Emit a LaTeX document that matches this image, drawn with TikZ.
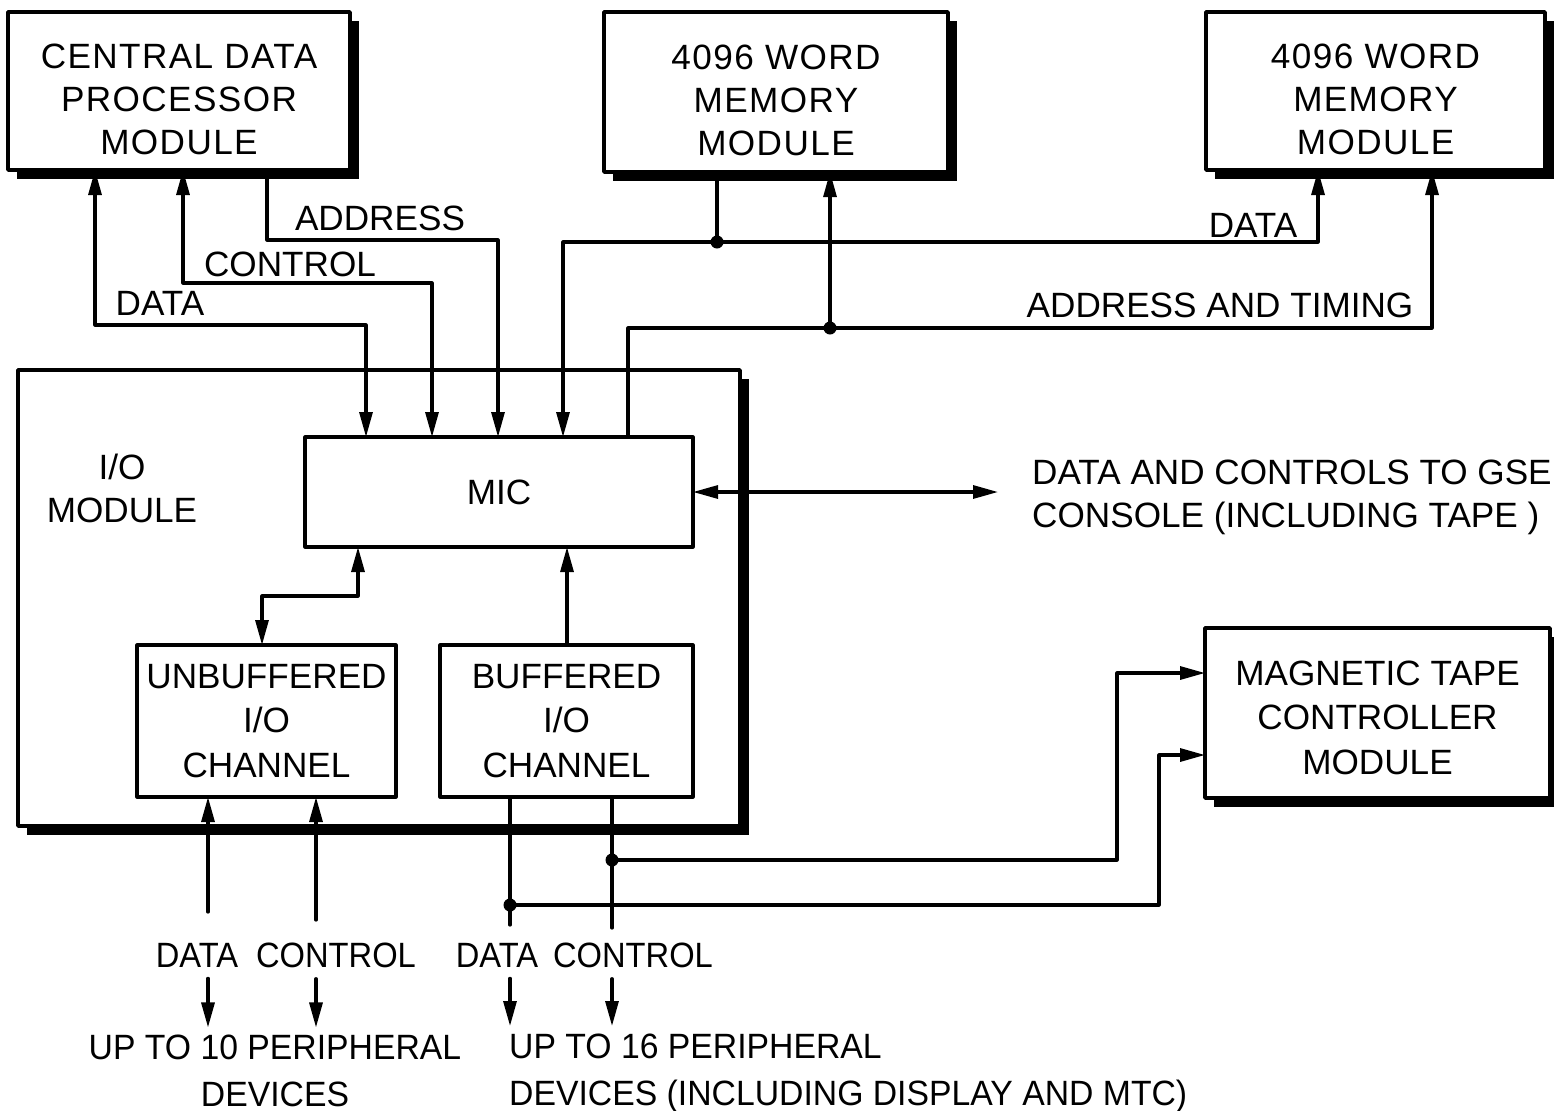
\documentclass[tikz,border=0pt]{standalone}
\usepackage{fontspec}
\setmainfont{Liberation Sans}
\usetikzlibrary{arrows.meta,shadows}

% invisible strut that lowers the text block of a module
\newcommand{\lowtop}[1]{\rule{0pt}{#1}}

\begin{document}
\begin{tikzpicture}[x=1cm,y=1cm,>={Triangle[length=2.5mm,width=1.3mm]},line cap=round,line join=round]

% Box and text styles
\tikzset{
  module/.style={draw,line width=1pt,fill=white,align=center,inner sep=0pt,outer sep=0pt,
    font=\fontsize{10}{12.2}\selectfont\addfontfeature{LetterSpace=4},
    drop shadow={shadow xshift=0.09cm,shadow yshift=-0.09cm,opacity=1,fill=black}},
  unit/.style={draw,line width=0.9pt,fill=white,align=center,inner sep=0pt,outer sep=0pt,
    font=\fontsize{10}{12.6}\selectfont},
  sig/.style={line width=0.9pt},
  siglabel/.style={font=\fontsize{10}{12.2}\selectfont,inner sep=1pt},
  botlabel/.style={font=\fontsize{10}{12.2}\selectfont\addfontfeature{FakeStretch=0.93},inner sep=1pt},
  devlabel/.style={font=\fontsize{10}{13.3}\selectfont\addfontfeature{FakeStretch=0.96},inner sep=1pt}
}

\useasboundingbox (0,0) rectangle (15.54,11.10);

% Modules
\node[module,minimum width=3.42cm,minimum height=1.58cm] (cdp) at (1.79,10.19) {\lowtop{0.41cm}CENTRAL DATA\\PROCESSOR\\MODULE};
\node[module,minimum width=3.44cm,minimum height=1.60cm] (memA) at (7.76,10.18) {\lowtop{0.42cm}4096 WORD\\MEMORY\\MODULE};
\node[module,minimum width=3.39cm,minimum height=1.58cm] (memB) at (13.755,10.19) {\lowtop{0.42cm}4096 WORD\\MEMORY\\MODULE};
\node[module,minimum width=7.22cm,minimum height=4.56cm] (iomod) at (3.79,5.12) {};
\node[module,font=\fontsize{10}{12.6}\selectfont,minimum width=3.45cm,minimum height=1.70cm] (mtc) at (13.775,3.97) {\lowtop{0.34cm}MAGNETIC TAPE\\CONTROLLER\\MODULE};

% Inside the I/O module
\node[siglabel,align=center] (iolbl) at (1.22,6.22) {I/O\\MODULE};
\node[unit,minimum width=3.88cm,minimum height=1.10cm] (mic) at (4.99,6.18) {MIC};
\node[unit,minimum width=2.59cm,minimum height=1.52cm] (unbuf) at (2.665,3.89) {UNBUFFERED\\I/O\\CHANNEL};
\node[unit,minimum width=2.53cm,minimum height=1.52cm] (buf) at (5.665,3.89) {BUFFERED\\I/O\\CHANNEL};

% Bends of the processor and memory buses
\coordinate (cdA) at (0.95,7.85); \coordinate (cdB) at (3.66,7.85);
\coordinate (ccA) at (1.83,8.27); \coordinate (ccB) at (4.32,8.27);
\coordinate (caA) at (2.67,8.70); \coordinate (caB) at (4.98,8.70);
\coordinate (mdA) at (5.63,8.68); \coordinate (mdB) at (13.18,8.68); \coordinate (mdJ) at (7.17,8.68);
\coordinate (atA) at (6.28,7.82); \coordinate (atB) at (14.32,7.82); \coordinate (atJ) at (8.30,7.82);

% Processor to MIC
\draw[sig,<->] (cdp.south -| cdA) -- (cdA) -- (cdB) -- (cdB |- mic.north);
\draw[sig,<->] (cdp.south -| ccA) -- (ccA) -- (ccB) -- (ccB |- mic.north);
\draw[sig,->] (cdp.south -| caA) -- (caA) -- (caB) -- (caB |- mic.north);

% Memories to MIC
\draw[sig,<->] (mic.north -| mdA) -- (mdA) -- (mdB) -- (mdB |- memB.south);
\draw[sig] (memA.south -| mdJ) -- (mdJ);
\draw[sig,->] (mic.north -| atA) -- (atA) -- (atB) -- (atB |- memB.south);
\draw[sig,->] (atJ) -- (atJ |- memA.south);
\fill (mdJ) circle (0.065) (atJ) circle (0.065);

% Bus labels
\node[siglabel] (lblcd) at (1.60,8.07) {DATA};
\node[siglabel] (lblcc) at (2.90,8.46) {CONTROL};
\node[siglabel] (lblca) at (3.80,8.92) {ADDRESS};
\node[siglabel] (lblmd) at (12.53,8.85) {DATA};
\node[siglabel] (lblat) at (12.20,8.05) {ADDRESS AND TIMING};

% GSE console
\coordinate (gse) at (9.98,6.18);
\draw[sig,<->] (mic.east) -- (gse);
\node[siglabel,align=left,anchor=west] (lblgse) at (10.28,6.125) {DATA AND CONTROLS TO GSE\\CONSOLE (INCLUDING TAPE )};

% Channels to MIC
\coordinate (ubA) at (3.58,5.14); \coordinate (ubB) at (2.62,5.14);
\draw[sig,<->] (mic.south -| ubA) -- (ubA) -- (ubB) -- (ubB |- unbuf.north);
\coordinate (bfA) at (5.67,4.65);
\draw[sig,->] (buf.north -| bfA) -- (bfA |- mic.south);

% Peripheral lines
\coordinate (udat) at (2.08,1.98); \coordinate (uctl) at (3.16,1.90);
\coordinate (bdat) at (5.10,1.85); \coordinate (bctl) at (6.12,1.82);
\draw[sig,->] (udat) -- (udat |- unbuf.south);
\draw[sig,->] (uctl) -- (uctl |- unbuf.south);
\draw[sig] (buf.south -| bdat) -- (bdat);
\draw[sig] (buf.south -| bctl) -- (bctl);

% Buffered channel to tape controller
\coordinate (bcJ) at (6.12,2.50); \coordinate (bdJ) at (5.10,2.05);
\coordinate (mtA) at (11.17,2.50); \coordinate (mtB) at (11.59,2.05);
\draw[sig,->] (bcJ) -- (mtA) |- ([yshift=0.40cm]mtc.west);
\draw[sig,->] (bdJ) -- (mtB) |- ([yshift=-0.42cm]mtc.west);
\fill (bcJ) circle (0.065) (bdJ) circle (0.065);

% Peripheral labels
\node[botlabel] (uD) at (1.97,1.55) {DATA};
\node[botlabel] (uC) at (3.36,1.55) {CONTROL};
\node[botlabel] (bD) at (4.97,1.55) {DATA};
\node[botlabel] (bC) at (6.33,1.55) {CONTROL};
\node[devlabel,align=center] (devU) at (2.75,0.39) {UP TO 10 PERIPHERAL\\DEVICES};
\node[devlabel,align=left,anchor=west] (devB) at (5.05,0.37) {UP TO 16 PERIPHERAL\\DEVICES (INCLUDING DISPLAY AND MTC)};

\draw[sig,->,shorten <=2pt,shorten >=1pt] (udat |- uD.south) -- (udat |- devU.north);
\draw[sig,->,shorten <=2pt,shorten >=1pt] (uctl |- uC.south) -- (uctl |- devU.north);
\draw[sig,->,shorten <=2pt,shorten >=1pt] (bdat |- bD.south) -- (bdat |- devB.north);
\draw[sig,->,shorten <=2pt,shorten >=1pt] (bctl |- bC.south) -- (bctl |- devB.north);

\end{tikzpicture}
\end{document}
